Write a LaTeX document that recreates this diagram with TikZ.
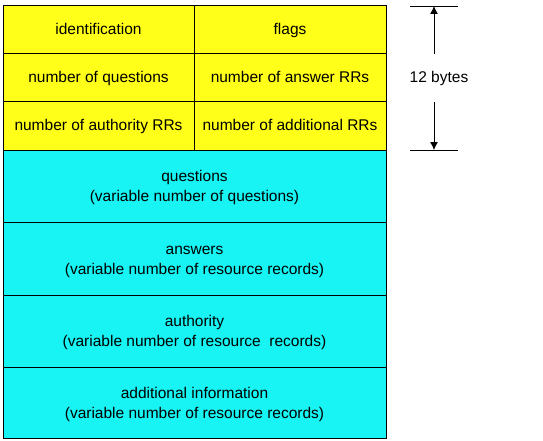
\documentclass[tikz,border=0pt]{standalone}
\usepackage{fontspec}
\setmainfont{Liberation Sans}
\usetikzlibrary{arrows.meta}
\definecolor{hdr}{RGB}{255,255,26}
\definecolor{sec}{RGB}{24,244,244}
\newcommand{\lowerstrut}{\rule{0pt}{15pt}}
\tikzset{
  cell/.style={draw=black, line width=1pt, fill=hdr, minimum width=#1pt, minimum height=48pt, inner sep=0pt, text height=12pt, text depth=2pt, font=\fontsize{15.5}{19}\selectfont, align=center},
  part/.style={draw=black, line width=1pt, fill=sec, minimum width=383pt, minimum height=#1pt, inner sep=0pt, font=\fontsize{15.5}{20}\selectfont, align=center},
  dim/.style={line width=0.8pt},
  dimarrow/.style={line width=0.8pt, -{Latex[length=8pt,width=8pt]}}
}
\begin{document}
\begin{tikzpicture}[x=1pt,y=-1pt]
\useasboundingbox (0,0) rectangle (543,441);
% header cells
\node[cell=191] (ident) at (98.5,30) {identification};
\node[cell=192] (flags) at (290,30) {flags};
\node[cell=191] (nq) at (98.5,78) {number of questions};
\node[cell=192] (nans) at (290,78) {number of answer RRs};
\node[cell=191] (nauth) at (98.5,126) {number of authority RRs};
\node[cell=192] (nadd) at (290,126) {number of additional RRs};
% sections
\node[part=72] (quest) at (194.5,186) {\lowerstrut questions\\(variable number of questions)};
\node[part=73] (answ) at (194.5,258.5) {\lowerstrut answers\\(variable number of resource records)};
\node[part=72] (auth) at (194.5,331) {\lowerstrut authority\\(variable number of resource\ \ records)};
\node[part=71] (addl) at (194.5,402.5) {\lowerstrut additional information\\(variable number of resource records)};
% dimension
\coordinate (tl) at (410,6);
\coordinate (tr) at (458,6);
\coordinate (ta) at (434,6);
\coordinate (bl) at (410,150);
\coordinate (br) at (458,150);
\coordinate (ba) at (434,150);
\draw[dim] (tl) -- (tr);
\draw[dim] (bl) -- (br);
\node[minimum height=48pt, inner sep=0pt, text height=12pt, text depth=2pt, font=\fontsize{15.5}{18}\selectfont] (lbl) at (439,78) {12 bytes};
\draw[dimarrow] (lbl.north -| ta) -- (ta);
\draw[dimarrow] (lbl.south -| ba) -- (ba);
\end{tikzpicture}
\end{document}
